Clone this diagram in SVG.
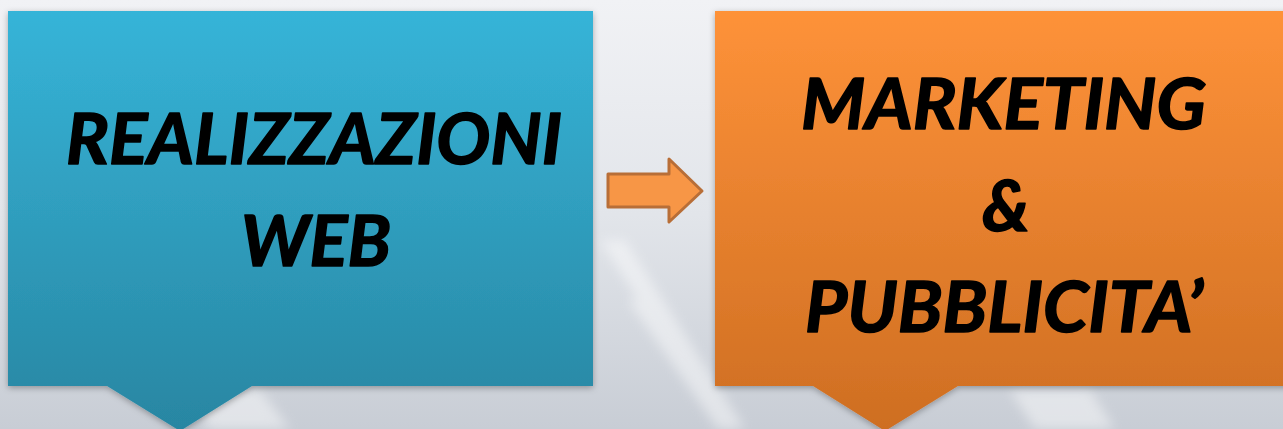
<svg xmlns="http://www.w3.org/2000/svg" width="1283" height="429" viewBox="0 0 1283 429">
<defs>
<linearGradient id="bg" x1="0" y1="0" x2="0" y2="1">
<stop offset="0" stop-color="#F1F2F5"/>
<stop offset="0.5" stop-color="#E2E5EA"/>
<stop offset="1" stop-color="#C8CDD5"/>
</linearGradient>
<linearGradient id="blue" gradientUnits="userSpaceOnUse" x1="0" y1="11" x2="0" y2="430">
<stop offset="0" stop-color="#36B4D8"/>
<stop offset="1" stop-color="#2886A2"/>
</linearGradient>
<linearGradient id="orange" gradientUnits="userSpaceOnUse" x1="0" y1="11" x2="0" y2="430">
<stop offset="0" stop-color="#FE9239"/>
<stop offset="1" stop-color="#CE6E22"/>
</linearGradient>
<filter id="sh" x="-5%" y="-5%" width="110%" height="115%">
<feDropShadow dx="0" dy="2" stdDeviation="3" flood-color="#000" flood-opacity="0.3"/>
</filter>
<filter id="soft" x="-20%" y="-20%" width="140%" height="140%">
<feGaussianBlur stdDeviation="6"/>
</filter>
<style>
.lbl{font-family:Lato,"Open Sans","Liberation Sans",sans-serif;font-weight:bold;font-style:italic;font-size:71px;fill:#000;stroke:#000;stroke-width:1.6px;stroke-linejoin:round}
</style>
</defs>
<rect width="1283" height="429" fill="url(#bg)"/>
<g opacity="0.45" fill="#FFFFFF" filter="url(#soft)">
<polygon points="600,240 625,240 745,429 720,429"/>
<polygon points="628,300 645,300 735,429 718,429"/>
<polygon points="180,390 260,390 290,429 210,429"/>
<polygon points="1010,390 1090,390 1115,429 1035,429"/>
</g>
<g id="node-web">
<path d="M8,11 H593 V386 H252 L180,431 L107,386 H8 Z" fill="url(#blue)" filter="url(#sh)"/>
<text class="lbl" x="66" y="164" textLength="496" lengthAdjust="spacingAndGlyphs">REALIZZAZIONI</text>
<text class="lbl" x="241" y="266" textLength="150" lengthAdjust="spacingAndGlyphs">WEB</text>
</g>
<g id="node-marketing">
<path d="M715,11 H1290 V386 H958 L885,431 L813,386 H715 Z" fill="url(#orange)" filter="url(#sh)"/>
<text class="lbl" x="801" y="129" textLength="405" lengthAdjust="spacingAndGlyphs">MARKETING</text>
<text class="lbl" x="982" y="231">&amp;</text>
<text class="lbl" x="805" y="332" textLength="398" lengthAdjust="spacingAndGlyphs">PUBBLICITA’</text>
</g>
<g id="connectors">
<path d="M608,174 H669 V159 L702,191 L669,222 V207 H608 Z" fill="#F79646" stroke="#B86E37" stroke-width="3" stroke-linejoin="round"/>
</g>
</svg>
